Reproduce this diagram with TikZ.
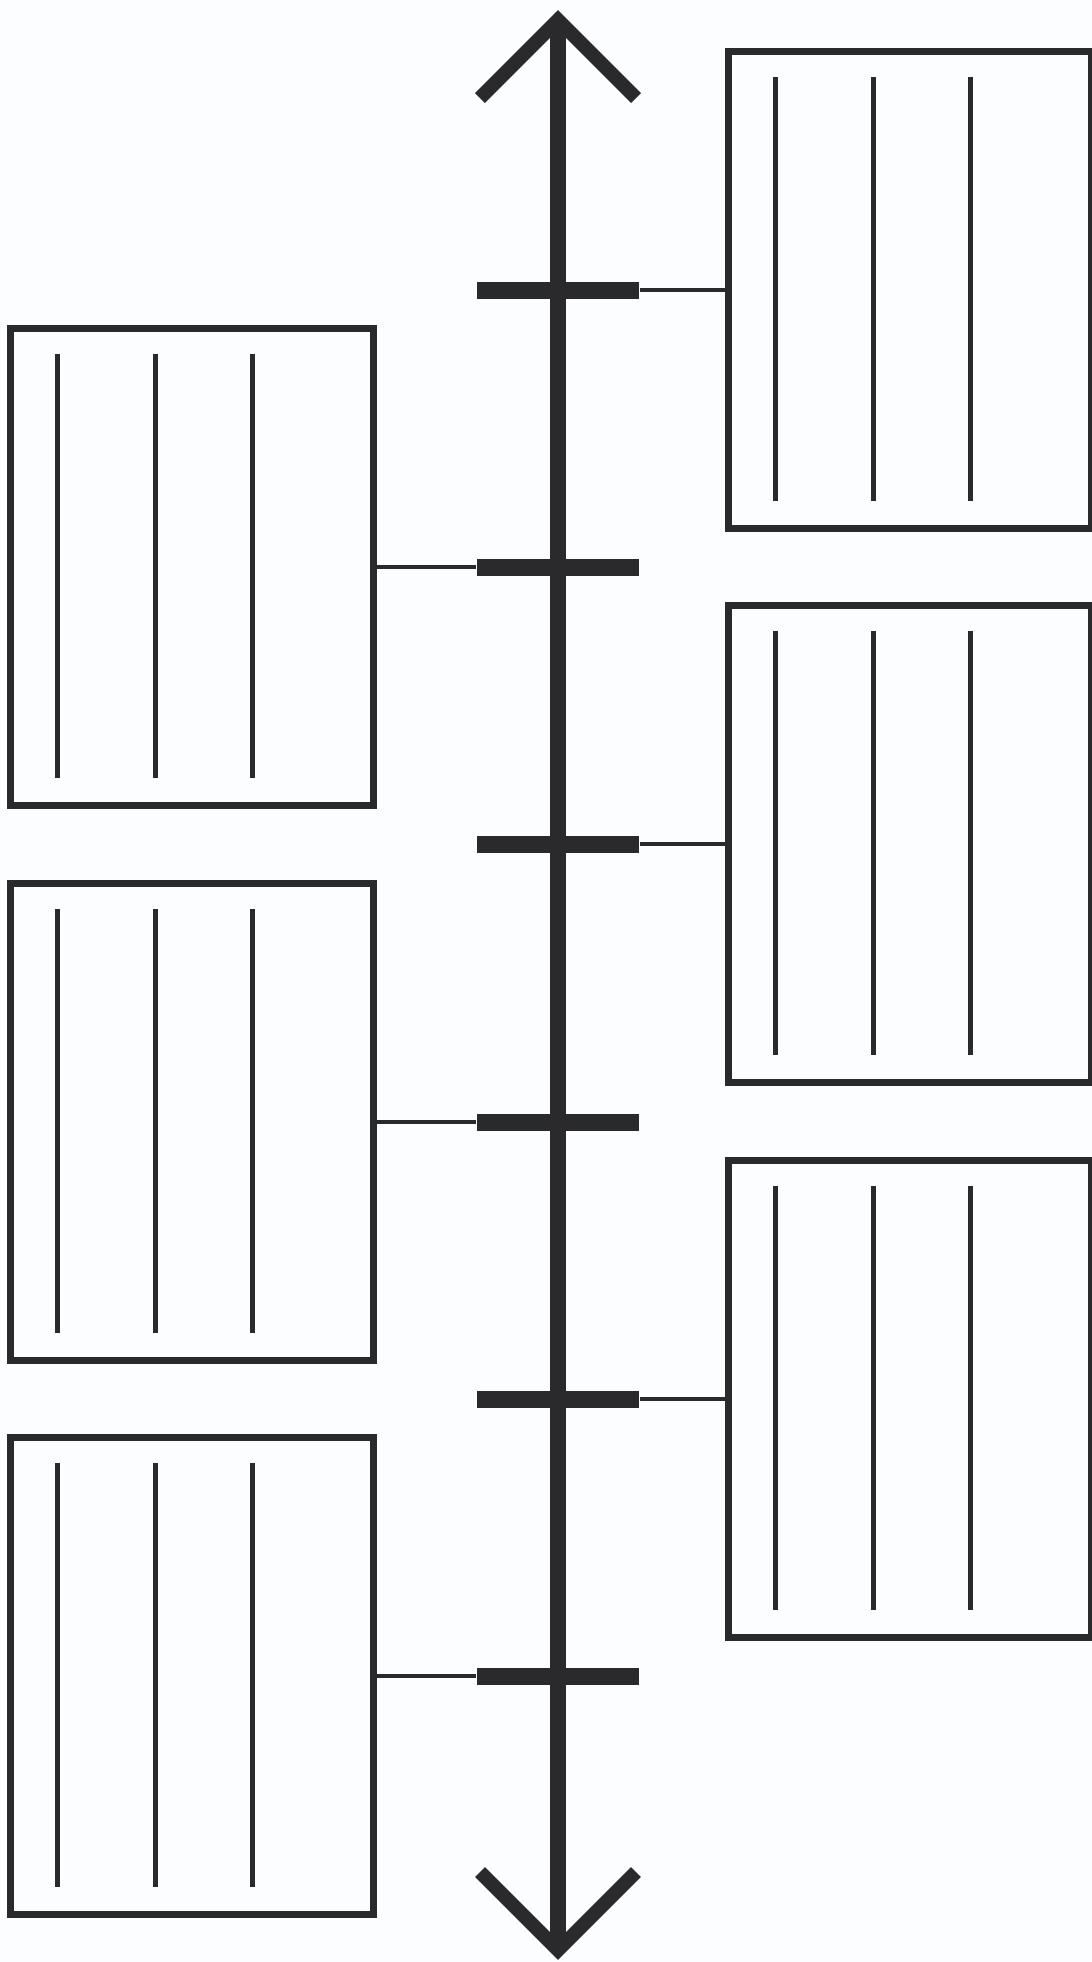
\documentclass[tikz,border=0pt]{standalone}
\usetikzlibrary{calc}
\definecolor{ink}{RGB}{42,42,44}
\definecolor{paper}{RGB}{252,253,255}

\begin{document}
\begin{tikzpicture}[
    x=0.01cm, y=-0.01cm,
    % Styles for the timeline sheet
    axisline/.style={draw=ink, line width=4.3pt},
    arrowarm/.style={draw=ink, line width=4pt, line join=miter},
    tickbar/.style={rectangle, fill=ink, inner sep=0pt, minimum width=1.62cm, minimum height=0.17cm},
    eventbox/.style={rectangle, draw=ink, line width=2pt, inner sep=0pt, minimum width=3.62cm, minimum height=4.77cm},
    writeline/.style={draw=ink, line width=1.6pt},
    link/.style={draw=ink, line width=1.1pt}
]

    % --- PAGE ---
    \fill[paper] (0,0) rectangle (1092,1962);
    \useasboundingbox (0,0) rectangle (1092,1962);

    % --- AXIS WITH OPEN ARROWS AT BOTH ENDS ---
    \coordinate (top) at (558,20);
    \coordinate (bottom) at (558,1950);
    \draw [axisline] (top) -- (bottom);
    \draw [arrowarm] ($(top)+(-78,78)$) -- (top) -- ($(top)+(78,78)$);
    \draw [arrowarm] ($(bottom)+(-78,-78)$) -- (bottom) -- ($(bottom)+(78,-78)$);

    % --- TICKS ---
    \foreach \i/\y in {1/290, 2/567, 3/844, 4/1122, 5/1399, 6/1676} {
        \node [tickbar] (tick\i) at (558,\y) {};
    }

    % --- EVENT BOXES (right: odd, left: even) ---
    \node [eventbox] (box1) at (910,290) {};
    \node [eventbox] (box2) at (192,567) {};
    \node [eventbox] (box3) at (910,844) {};
    \node [eventbox] (box4) at (192,1122) {};
    \node [eventbox] (box5) at (910,1399) {};
    \node [eventbox] (box6) at (192,1676) {};

    % Three writing lines in each box
    \foreach \b in {1,...,6} {
        \foreach \dx in {50,148,245} {
            \draw [writeline] ($(box\b.north west)+(\dx,29)$) -- ($(box\b.south west)+(\dx,-31)$);
        }
    }

    % --- CONNECTIONS ---
    \draw [link] (tick1.east) -- (box1.west);
    \draw [link] (box2.east) -- (tick2.west);
    \draw [link] (tick3.east) -- (box3.west);
    \draw [link] (box4.east) -- (tick4.west);
    \draw [link] (tick5.east) -- (box5.west);
    \draw [link] (box6.east) -- (tick6.west);

\end{tikzpicture}
\end{document}
